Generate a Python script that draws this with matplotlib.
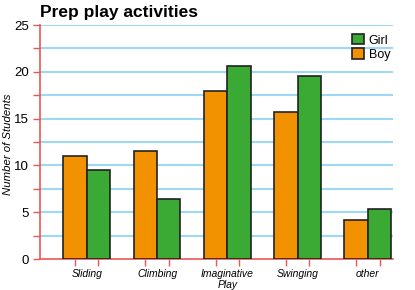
import matplotlib
matplotlib.use("Agg")
import matplotlib.pyplot as plt
import numpy as np
from matplotlib.patches import Patch

categories = ["Sliding", "Climbing", "Imaginative\nPlay", "Swinging", "other"]
boy = [11.0, 11.5, 18.0, 15.7, 4.2]
girl = [9.5, 6.4, 20.6, 19.5, 5.3]
yticks = [0, 5, 10, 15, 20, 25]

plt.rcParams['font.family'] = ['Liberation Sans', 'DejaVu Sans']

fig = plt.figure(figsize=(4.15, 2.9), dpi=100)
ax = fig.add_axes([40/415, 31/290, 353/415, 234/290])

orange = '#f39200'
green = '#3aaa35'
red = '#ee5555'
grid = '#9fd8f5'
w = 0.334
x = np.arange(len(categories))

ax.set_ylim(0, 25)
ax.set_xlim(-0.664, 4.356)
for yv in np.arange(2.5, 25.01, 2.5):
    ax.axhline(yv, color=grid, lw=1.5, zorder=0)

ax.bar(x - w/2, boy, w, color=orange, edgecolor='#222222', lw=1.2, zorder=3, label='Boy')
ax.bar(x + w/2, girl, w, color=green, edgecolor='#222222', lw=1.2, zorder=3, label='Girl')

for s in ['top', 'right']:
    ax.spines[s].set_visible(False)
for s in ['left', 'bottom']:
    ax.spines[s].set_color(red)
    ax.spines[s].set_linewidth(1.2)

ax.set_yticks(yticks)
ax.set_yticks(np.arange(2.5, 25, 5), minor=True)
ax.tick_params(axis='y', which='both', colors=red, length=5, width=1, labelcolor='black', labelsize=9.5, pad=3)
ax.set_xticks(x)
ax.set_xticklabels(categories, fontstyle='italic', fontsize=7.5, linespacing=1.15)
ax.set_xticks(np.concatenate([x - w/2, x + w/2]), minor=True)
ax.tick_params(axis='x', which='major', length=0, pad=7)
ax.tick_params(axis='x', which='minor', colors=red, length=5, width=1)

ax.set_ylabel('Number of Students', fontstyle='italic', fontsize=8.2, va='center')
ax.yaxis.set_label_coords((8 - 40) / 353, 0.49)

fig.text(40/415, 1 - 13/290, 'Prep play activities', fontsize=12.5, fontweight='bold', va='center', ha='left')

handles = [Patch(facecolor=green, edgecolor='#222222', lw=1.2, label='Girl'),
           Patch(facecolor=orange, edgecolor='#222222', lw=1.2, label='Boy')]
leg = ax.legend(handles=handles, loc='upper right', bbox_to_anchor=(390/415, 1 - 34/290), bbox_transform=fig.transFigure,
                frameon=False, fontsize=9, handlelength=0.9, handleheight=0.9, handletextpad=0.4,
                labelspacing=0.15, borderaxespad=0, borderpad=0)

fig.savefig('out.png', dpi=100)
